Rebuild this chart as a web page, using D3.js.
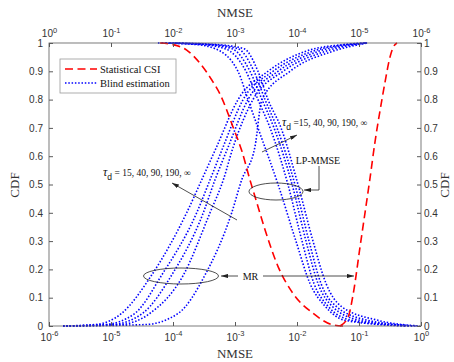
<!DOCTYPE html>
<html>
<head>
<meta charset="utf-8">
<script src="https://cdn.jsdelivr.net/npm/d3@7"></script>
<style>
  body { margin: 0; background: #fff; }
</style>
</head>
<body>
<div id="chart"></div>
<script>
const cdfMR = [0, 0.005, 0.045, 0.18, 0.40, 0.516, 0.634, 0.8, 0.9, 0.97, 0.995, 1];
const cdfLP = [0, 0.02, 0.07, 0.15, 0.3, 0.5, 0.7, 0.8, 0.9, 0.98, 0.995, 1];

// MR, blind estimation (bottom NMSE axis), tau_d = inf, 190, 90, 40, 15
const mrBlind = [
  [1.68e-6, 5.5e-6, 1.49e-5, 4.53e-5, 1.66e-4, 2.90e-4, 5.07e-4, 1.12e-3, 3.40e-3, 1.35e-2, 5.94e-2, 0.135],
  [1.68e-6, 8.0e-6, 2.44e-5, 6.58e-5, 2.41e-4, 3.95e-4, 6.47e-4, 1.35e-3, 4.10e-3, 1.75e-2, 6.65e-2, 0.135],
  [1.68e-6, 1.04e-5, 3.24e-5, 9.53e-5, 3.08e-4, 4.75e-4, 7.80e-4, 1.62e-3, 4.94e-3, 2.18e-2, 7.71e-2, 0.135],
  [1.68e-6, 1.40e-5, 4.26e-5, 1.47e-4, 3.95e-4, 6.47e-4, 9.40e-4, 1.95e-3, 5.94e-3, 2.83e-2, 8.95e-2, 0.135],
  [1.68e-6, 3.53e-5, 1.22e-4, 3.28e-4, 8.85e-4, 1.28e-3, 2.10e-3, 2.72e-3, 7.71e-3, 3.67e-2, 0.104, 0.135]
];

// LP-MMSE, blind estimation (top NMSE axis)
const lpBlind = [
  [1.81e-6, 1.68e-5, 3.53e-5, 6.17e-5, 1.04e-4, 2.02e-4, 4.26e-4, 6.17e-4, 8.95e-4, 2.10e-3, 4.42e-3, 1.75e-2],
  [1.50e-6, 1.30e-5, 3.16e-5, 5.32e-5, 8.30e-5, 1.40e-4, 2.72e-4, 4.26e-4, 6.65e-4, 1.45e-3, 3.67e-3, 1.50e-2],
  [1.35e-6, 9.64e-6, 2.72e-5, 4.58e-5, 7.16e-5, 1.20e-4, 2.35e-4, 3.67e-4, 5.73e-4, 1.12e-3, 3.05e-3, 1.30e-2],
  [1.20e-6, 7.16e-6, 2.35e-5, 4.10e-5, 6.40e-5, 1.08e-4, 2.10e-4, 3.28e-4, 4.94e-4, 8.95e-4, 2.53e-3, 1.12e-2],
  [1.04e-6, 4.94e-6, 1.95e-5, 3.40e-5, 5.52e-5, 9.64e-5, 1.81e-4, 2.94e-4, 4.26e-4, 7.16e-4, 2.10e-3, 9.29e-3]
];

// statistical CSI
const cdfMRStat = [0, 0.033, 0.115, 0.28, 0.40, 0.52, 0.65, 0.76, 0.86, 0.95, 0.99, 1];
const mrStat = [4.94e-2, 6.71e-2, 8.09e-2, 0.104, 0.125, 0.150, 0.181, 0.218, 0.262, 0.316, 0.367, 0.410];
const cdfLPStat = [0, 0.004, 0.045, 0.115, 0.21, 0.34, 0.445, 0.516, 0.62, 0.704, 0.82, 0.87, 0.928, 0.975, 0.995, 1];
const lpStat = [1.81e-5, 2.62e-5, 5.52e-5, 1.16e-4, 2.02e-4, 3.28e-4, 4.58e-4, 5.73e-4, 7.80e-4, 1.08e-3, 1.75e-3, 2.38e-3, 3.67e-3, 6.01e-3, 1.04e-2, 1.62e-2];

const decades = [1e-6, 1e-5, 1e-4, 1e-3, 1e-2, 1e-1, 1];
const cdfTicks = d3.range(0, 11).map(i => i / 10);

const width = 454, height = 362;
const pLeft = 49, pRight = 421, pTop = 43, pBottom = 326;
const axisColor = '#5a5a5a', textColor = '#333';
const sans = 'Liberation Sans, Arial, sans-serif';
const serif = 'Liberation Serif, Times New Roman, serif';

const svg = d3.select('#chart').append('svg')
  .attr('width', width)
  .attr('height', height);

const xBot = d3.scaleLog().domain([1e-6, 1]).range([pLeft, pRight]);
const xTop = d3.scaleLog().domain([1, 1e-6]).range([pLeft, pRight]);
const y = d3.scaleLinear().domain([0, 1]).range([pBottom, pTop]);

svg.append('clipPath').attr('id', 'clip')
  .append('rect').attr('x', pLeft).attr('y', pTop - 1)
  .attr('width', pRight - pLeft).attr('height', pBottom - pTop + 2);

// curve helper: points sorted on screen x, smooth in x
function drawCurve(xs, vals, cdf, color, dash, w) {
  const pts = vals.map((v, i) => [v, cdf[i]]).sort((a, b) => xs(a[0]) - xs(b[0]));
  const line = d3.line()
    .x(d => xs(d[0]))
    .y(d => y(d[1]))
    .curve(d3.curveMonotoneX);
  svg.append('path')
    .attr('clip-path', 'url(#clip)')
    .attr('d', line(pts))
    .attr('fill', 'none')
    .attr('stroke', color)
    .attr('stroke-width', w)
    .attr('stroke-dasharray', dash);
}

const dotted = '1.5,1.8';
const dashed = '8,4.5';

mrBlind.forEach(c => drawCurve(xBot, c, cdfMR, '#0000ff', dotted, 1.6));
lpBlind.forEach(c => drawCurve(xTop, c, cdfLP, '#0000ff', dotted, 1.6));
drawCurve(xBot, mrStat, cdfMRStat, '#ff0000', dashed, 1.6);
drawCurve(xTop, lpStat, cdfLPStat, '#ff0000', dashed, 1.6);

// axes, ticks pointing inward
function expLabels(g, dyBase) {
  g.selectAll('.tick text').each(function(d) {
    const t = d3.select(this).text('');
    const e = Math.round(Math.log10(d));
    t.attr('y', dyBase).attr('dy', 0)
      .attr('font-family', sans).attr('font-size', 10).attr('fill', textColor);
    t.append('tspan').text('10');
    t.append('tspan').attr('dy', -4.5).attr('font-size', 7.5).text(e === 0 ? '0' : '-' + Math.abs(e));
  });
}

const gBot = svg.append('g')
  .attr('transform', `translate(0,${pBottom})`)
  .call(d3.axisBottom(xBot).tickValues(decades).tickSize(-4).tickSizeOuter(0).tickFormat(() => ''));
expLabels(gBot, 14.5);

const gTop = svg.append('g')
  .attr('transform', `translate(0,${pTop})`)
  .call(d3.axisTop(xTop).tickValues(decades).tickSize(-4).tickSizeOuter(0).tickFormat(() => ''));
expLabels(gTop, -6);

const gLeft = svg.append('g')
  .attr('transform', `translate(${pLeft},0)`)
  .call(d3.axisLeft(y).tickValues(cdfTicks).tickSize(-4).tickSizeOuter(0).tickPadding(6).tickFormat(d3.format('~g')));

const gRight = svg.append('g')
  .attr('transform', `translate(${pRight},0)`)
  .call(d3.axisRight(y).tickValues(cdfTicks).tickSize(-4).tickSizeOuter(0).tickPadding(3).tickFormat(d3.format('~g')));

[gBot, gTop, gLeft, gRight].forEach(g => {
  g.select('.domain').remove();
  g.selectAll('.tick line').attr('stroke', axisColor);
});
[gLeft, gRight].forEach(g => {
  g.selectAll('.tick text').attr('font-family', sans).attr('font-size', 10).attr('fill', textColor);
});

svg.append('rect')
  .attr('x', pLeft).attr('y', pTop)
  .attr('width', pRight - pLeft).attr('height', pBottom - pTop)
  .attr('fill', 'none').attr('stroke', axisColor).attr('stroke-width', 0.8);

// axis titles
svg.append('text').attr('x', 235).attr('y', 17).attr('text-anchor', 'middle')
  .attr('font-family', serif).attr('font-size', 13).attr('fill', textColor).text('NMSE');
svg.append('text').attr('x', 235).attr('y', 358).attr('text-anchor', 'middle')
  .attr('font-family', serif).attr('font-size', 13).attr('fill', textColor).text('NMSE');
svg.append('text').attr('transform', 'translate(19,185) rotate(-90)').attr('text-anchor', 'middle')
  .attr('font-family', serif).attr('font-size', 13).attr('fill', textColor).text('CDF');
svg.append('text').attr('transform', 'translate(449,185) rotate(-90)').attr('text-anchor', 'middle')
  .attr('font-family', serif).attr('font-size', 13).attr('fill', textColor).text('CDF');

// legend
const legend = svg.append('g');
legend.append('rect').attr('x', 60).attr('y', 59).attr('width', 116).attr('height', 34)
  .attr('fill', '#fff').attr('stroke', '#9a9a9a').attr('stroke-width', 0.8);
legend.append('line').attr('x1', 65).attr('x2', 97).attr('y1', 69).attr('y2', 69)
  .attr('stroke', '#ff0000').attr('stroke-width', 1.6).attr('stroke-dasharray', dashed);
legend.append('line').attr('x1', 65).attr('x2', 97).attr('y1', 83).attr('y2', 83)
  .attr('stroke', '#0000ff').attr('stroke-width', 1.6).attr('stroke-dasharray', dotted);
legend.append('text').attr('x', 100).attr('y', 72.5).attr('font-family', serif).attr('font-size', 10.5)
  .attr('fill', '#111').text('Statistical CSI');
legend.append('text').attr('x', 100).attr('y', 86.5).attr('font-family', serif).attr('font-size', 10.5)
  .attr('fill', '#111').text('Blind estimation');

// annotations
const defs = svg.append('defs');
defs.append('marker').attr('id', 'head')
  .attr('viewBox', '0 0 10 6').attr('refX', 10).attr('refY', 3)
  .attr('markerWidth', 7).attr('markerHeight', 4.2).attr('orient', 'auto')
  .attr('markerUnits', 'userSpaceOnUse')
  .append('path').attr('d', 'M0,0 L10,3 L0,6 Z').attr('fill', '#222');

const ann = svg.append('g').attr('stroke', '#222').attr('stroke-width', 0.8).attr('fill', 'none');

ann.append('ellipse').attr('cx', 181).attr('cy', 276).attr('rx', 37.5).attr('ry', 8);
ann.append('line').attr('x1', 238).attr('y1', 276).attr('x2', 221).attr('y2', 276).attr('marker-end', 'url(#head)');
ann.append('line').attr('x1', 263).attr('y1', 276).attr('x2', 354).attr('y2', 276).attr('marker-end', 'url(#head)');

ann.append('ellipse').attr('cx', 276).attr('cy', 191.5).attr('rx', 27).attr('ry', 8.5);
ann.append('path').attr('d', 'M319,166 L319,190 L304,190').attr('marker-end', 'url(#head)');

ann.append('line').attr('x1', 262).attr('y1', 152).attr('x2', 297).attr('y2', 135).attr('marker-end', 'url(#head)');
ann.append('line').attr('x1', 237).attr('y1', 220).attr('x2', 172).attr('y2', 183).attr('marker-end', 'url(#head)');

svg.append('text').attr('x', 250.5).attr('y', 279.5).attr('text-anchor', 'middle')
  .attr('font-family', serif).attr('font-size', 10).attr('fill', '#111').text('MR');
svg.append('text').attr('x', 318).attr('y', 164).attr('text-anchor', 'middle')
  .attr('font-family', serif).attr('font-size', 10).attr('fill', '#111').text('LP-MMSE');

function tauLabel(x, yb, rest) {
  const t = svg.append('text').attr('x', x).attr('y', yb).attr('fill', '#111');
  t.append('tspan').attr('font-family', serif).attr('font-style', 'italic').attr('font-size', 12).text('τ');
  t.append('tspan').attr('font-family', sans).attr('font-size', 8.5).attr('dy', 4).text('d');
  t.append('tspan').attr('font-family', serif).attr('font-size', 9.5).attr('dy', -4).text(rest);
}
tauLabel(103, 176, ' = 15, 40, 90, 190, ∞');
tauLabel(282, 126, ' =15, 40, 90, 190, ∞');
</script>
</body>
</html>
